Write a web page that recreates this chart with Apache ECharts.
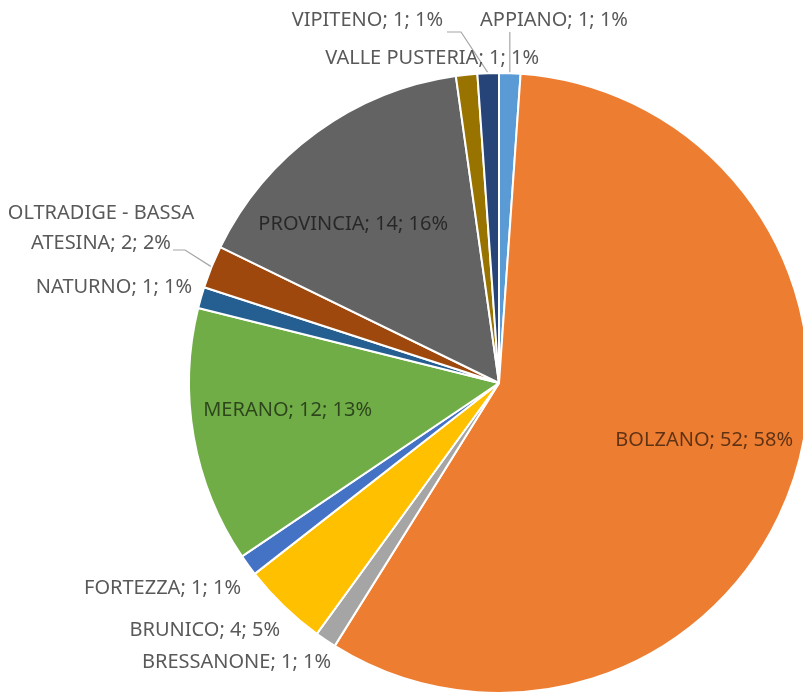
<!DOCTYPE html>
<html><head><meta charset="utf-8">
<script src="https://cdn.jsdelivr.net/npm/echarts@6/dist/echarts.min.js"></script>
<style>html,body{margin:0;padding:0;background:#fff}#c{width:803px;height:695px}</style>
</head><body><div id="c"></div>
<script>
const categories = ['APPIANO','BOLZANO','BRESSANONE','BRUNICO','FORTEZZA','MERANO','NATURNO','OLTRADIGE - BASSA\nATESINA','PROVINCIA','VALLE PUSTERIA','VIPITENO'];
const values = [1,52,1,4,1,12,1,2,14,1,1];
const percentLabels = ['1%','58%','1%','5%','1%','13%','1%','2%','16%','1%','1%'];
const colors = ['#5B9BD5','#ED7D31','#A5A5A5','#FFC000','#4472C4','#70AD47','#255E91','#9E480E','#636363','#997300','#264478'];

// label placement (x, y, align) per slice; guide = leader line shape relative to label anchor
const labelPlace = [
  {x:480, y:20, align:'left', guide:{type:'down', ey:12}},
  {x:793, y:440, align:'right'},
  {x:331, y:662, align:'right'},
  {x:280, y:630, align:'right'},
  {x:241, y:588, align:'right'},
  {x:372, y:410, align:'right'},
  {x:192, y:287, align:'right'},
  {x:101, y:228, align:'center', guide:{type:'side', ex:72, ey:22, bx:84}},
  {x:448, y:224, align:'right'},
  {x:539, y:58, align:'right'},
  {x:443, y:20, align:'right', guide:{type:'side', ex:4, ey:12, bx:18}}
];
const insideIdx = [1,5,8];

const chart = echarts.init(document.getElementById('c'), null, {renderer:'canvas'});
const data = categories.map((n,i)=>({
  name:n, value:values[i],
  itemStyle:{color:colors[i]},
  label:{color: insideIdx.includes(i) ? 'rgba(0,0,0,0.6)' : '#595959'},
  labelLine:{show:!!labelPlace[i].guide}
}));
chart.setOption({
  animation:false,
  series:[{
    type:'pie',
    center:[499,383],
    radius:310,
    startAngle:90,
    clockwise:true,
    avoidLabelOverlap:false,
    itemStyle:{borderColor:'#fff',borderWidth:2},
    label:{
      show:true,
      position:'outside',
      fontFamily:'Noto Sans',
      fontSize:20,
      lineHeight:30,
      formatter:p=>p.name+'; '+values[p.dataIndex]+'; '+percentLabels[p.dataIndex]
    },
    labelLine:{show:true,length:10,length2:10,lineStyle:{color:'#A6A6A6',width:1.2}},
    labelLayout:p=>{
      const L = labelPlace[p.dataIndex];
      const out = {x:L.x, y:L.y, align:L.align, verticalAlign:'middle', hideOverlap:false, moveOverlap:false};
      if (L.guide && p.labelLinePoints) {
        const s = p.labelLinePoints[0];
        const g = L.guide;
        if (g.type === 'down') {
          out.labelLinePoints = [[s[0], s[1]], [s[0], L.y + g.ey], [s[0], L.y + g.ey]];
        } else {
          out.labelLinePoints = [[s[0], s[1]], [L.x + g.bx, L.y + g.ey], [L.x + g.ex, L.y + g.ey]];
        }
      }
      return out;
    },
    data:data
  }]
});
</script></body></html>
